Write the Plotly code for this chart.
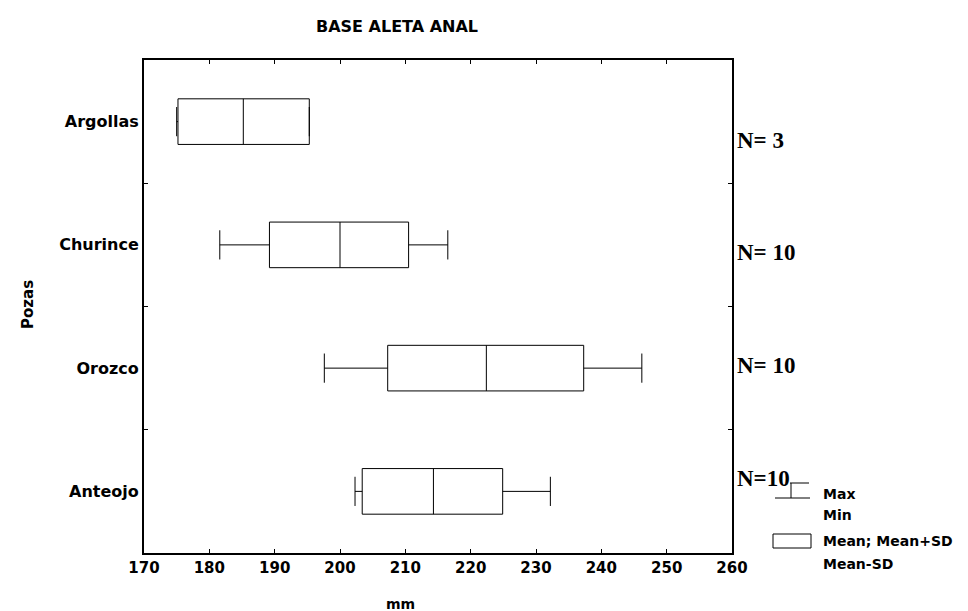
import plotly.graph_objects as go

# ---- data ----
pozas = ["Argollas", "Churince", "Orozco", "Anteojo"]
mean_vals = [185.2, 200.0, 222.4, 214.3]
mean_minus_sd = [175.2, 189.2, 207.3, 203.4]
mean_plus_sd = [195.3, 210.5, 237.3, 224.9]
min_vals = [175.0, 181.6, 197.6, 202.3]
max_vals = [195.3, 216.5, 246.2, 232.2]
n_labels = ["N= 3", "N= 10", "N= 10", "N=10"]
x_ticks = [170, 180, 190, 200, 210, 220, 230, 240, 250, 260]

W, H = 968, 611
L, R, T, B = 136, 724, 52, 545


def px(x):
    return (x - L) / (R - L)


def py(y):
    return (B - y) / (B - T)


SANS = "DejaVu Sans, Liberation Sans, Arial, sans-serif"
SERIF = "Liberation Serif, Times New Roman, serif"

fig = go.Figure()
fig.add_trace(go.Box(
    orientation="h",
    y=pozas,
    q1=mean_minus_sd,
    median=mean_vals,
    q3=mean_plus_sd,
    lowerfence=min_vals,
    upperfence=max_vals,
    width=0.37,
    whiskerwidth=0.64,
    fillcolor="white",
    line=dict(color="black", width=1),
    boxpoints=False,
    showlegend=False,
    hoverinfo="skip",
))

annotations = []
# N labels on the right
n_ypix = [132, 245, 357, 470]
for lab, yp in zip(n_labels, n_ypix):
    annotations.append(dict(
        text=lab, xref="paper", yref="paper", x=px(727), y=py(yp),
        xanchor="left", yanchor="middle", showarrow=False,
        font=dict(family=SERIF, size=23, color="black", weight="bold"),
    ))
# legend texts
for txt, yp in [("Max", 486), ("Min", 507), ("Mean; Mean+SD", 533), ("Mean-SD", 556)]:
    annotations.append(dict(
        text=txt, xref="paper", yref="paper", x=px(813), y=py(yp),
        xanchor="left", yanchor="middle", showarrow=False,
        font=dict(family=SANS, size=14, color="black", weight="bold"),
    ))
# axis titles
annotations.append(dict(
    text="mm", xref="paper", yref="paper", x=px(392), y=py(596),
    xanchor="center", yanchor="middle", showarrow=False,
    font=dict(family=SANS, size=14, color="black", weight="bold"),
))
annotations.append(dict(
    text="Pozas", xref="paper", yref="paper", x=px(20), y=py(297),
    xanchor="center", yanchor="middle", showarrow=False, textangle=-90,
    font=dict(family=SANS, size=15, color="black", weight="bold"),
))

# legend symbols
shapes = [
    dict(type="line", xref="paper", yref="paper", x0=px(782), x1=px(801), y0=py(475), y1=py(475),
         line=dict(color="black", width=1)),
    dict(type="line", xref="paper", yref="paper", x0=px(783), x1=px(783), y0=py(475), y1=py(490),
         line=dict(color="black", width=1)),
    dict(type="line", xref="paper", yref="paper", x0=px(767), x1=px(802), y0=py(490), y1=py(490),
         line=dict(color="black", width=1)),
    dict(type="rect", xref="paper", yref="paper", x0=px(765), x1=px(803), y0=py(540), y1=py(526),
         line=dict(color="black", width=1), fillcolor="white"),
]

fig.update_layout(
    width=W, height=H,
    margin=dict(l=L, r=W - R, t=T, b=H - B, pad=0),
    paper_bgcolor="white", plot_bgcolor="white",
    title=dict(text="BASE ALETA ANAL", x=px(389), xref="paper", xanchor="center",
               y=1 - 18.5 / H, yanchor="middle",
               font=dict(family=SANS, size=16, color="black", weight="bold")),
    xaxis=dict(range=[170, 260], tickvals=x_ticks, ticktext=[str(v) for v in x_ticks],
               ticks="inside", ticklen=4, tickcolor="black", mirror="ticks",
               showline=True, linecolor="black", linewidth=2, showgrid=False, zeroline=False,
               tickfont=dict(family=SANS, size=15, color="black", weight="bold")),
    yaxis=dict(type="category", categoryorder="array", categoryarray=pozas,
               range=[3.5, -0.5], tickson="boundaries",
               ticks="inside", ticklen=4, tickcolor="black", mirror="ticks",
               showline=True, linecolor="black", linewidth=2, showgrid=False, zeroline=False,
               tickfont=dict(family=SANS, size=16, color="black", weight="bold")),
    annotations=annotations,
    shapes=shapes,
)

fig.write_html("out.html")
